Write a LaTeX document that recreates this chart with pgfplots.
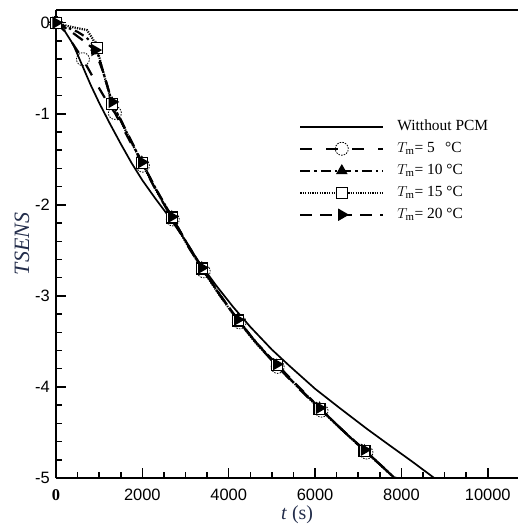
\documentclass[border=0pt]{standalone}
\usepackage{pgfplots}
\pgfplotsset{compat=1.18}
\usepackage{fontspec}
\setmainfont{Liberation Serif}
\setsansfont{Liberation Sans}
\definecolor{lblue}{RGB}{35,45,75}
\begin{document}
\begin{tikzpicture}
\begin{axis}[name=ax, scale only axis, width=462bp, height=468bp,
  xmin=0, xmax=10700, ymin=-5, ymax=0.14, clip=false,
  scaled x ticks=false, scaled y ticks=false,
  axis lines=left, axis line style={-, line width=2.5bp, black},
  xtick={0,2000,4000,6000,8000,10000},
  xticklabels={{\rmfamily\bfseries 0},2000,4000,6000,8000,10000},
  ytick={-5,-4,-3,-2,-1,0}, yticklabels={-5,-4,-3,-2,-1,0},
  minor x tick num=3, minor y tick num=4,
  tick align=inside, major tick length=10bp, minor tick length=6bp,
  tick style={line width=1.5bp, black},
  tick label style={font=\sffamily\fontsize{16.5}{16.5}\selectfont},
  yticklabel style={inner sep=0pt, xshift=-6bp},
  xticklabel style={inner sep=0pt, yshift=-11bp},
  xlabel={\textit{t} (s)},
  xlabel style={at={(axis description cs:0.522,-0.079)}, anchor=center, font=\fontsize{20}{20}\selectfont, text=lblue},
  ylabel={\textit{TSENS}},
  ylabel style={at={(axis description cs:-0.0735,0.5)}, anchor=center, font=\fontsize{22}{22}\selectfont, text=lblue},
  legend cell align=left,
  legend style={draw=none, fill=none, at={(axis description cs:0.526,0.767)}, anchor=north west,
    font=\fontsize{15.5}{15.5}\selectfont, inner sep=0pt, column sep=13bp, row sep=7bp,
    nodes={inner sep=0pt, text height=11bp, text depth=4bp}},
  legend image code/.code={\draw[#1, mark indices={2}] plot coordinates {(0bp,0bp) (41.5bp,0bp) (83bp,0bp)};},
  after end axis/.code={\draw[line width=2.5bp] (rel axis cs:0,1) -- (rel axis cs:1,1);}
]
% Without PCM
\addplot[black, line width=1.7bp, mark=none] coordinates {
(0,0)(200,-0.09)(400,-0.24)(600,-0.46)(800,-0.68)(1000,-0.88)(1250,-1.11)(1500,-1.33)(1750,-1.54)(2000,-1.73)(2300,-1.93)(2600,-2.12)(2950,-2.36)(3300,-2.62)(3700,-2.88)(4100,-3.12)(4500,-3.34)(5000,-3.59)(5410,-3.77)(6000,-4.02)(6566,-4.23)(7200,-4.46)(7722,-4.64)(8250,-4.82)(8760,-5.0)};
\addlegendentry{Witthout PCM}
% Tm = 5
\addplot[black, line width=2.2bp, dash pattern=on 12bp off 14bp, mark=o, mark size=6.5bp,
  mark options={solid, fill=white, line width=0.8bp, dash pattern=on 1.5bp off 1.2bp},
  mark indices={1,4,8,10,12,14,16,18,20,22}] coordinates {
(0,0)(200,-0.09)(400,-0.24)(624,-0.40)(800,-0.55)(1000,-0.72)(1200,-0.88)(1364,-0.99)(1700,-1.29)(2012,-1.57)(2350,-1.87)(2705,-2.16)(3050,-2.45)(3422,-2.73)(3850,-3.03)(4254,-3.29)(4700,-3.55)(5133,-3.78)(5650,-4.03)(6150,-4.26)(6650,-4.48)(7190,-4.72)(7550,-4.87)(7870,-5.0)};
\addlegendentry{$T_{\mathrm{m}}$= 5\phantom{0}\,°C}
% Tm = 10
\addplot[black, line width=2.2bp, dash pattern=on 10bp off 4bp on 2.5bp off 4bp, mark=triangle*, mark size=4.5bp,
  mark options={solid},
  mark indices={1,6,8,10,12,14,16,18,20,22}] coordinates {
(0,0)(150,-0.03)(300,-0.06)(500,-0.10)(700,-0.16)(925,-0.27)(1100,-0.55)(1300,-0.88)(1650,-1.22)(1988,-1.53)(2330,-1.84)(2682,-2.13)(3030,-2.42)(3376,-2.69)(3800,-2.99)(4208,-3.26)(4650,-3.52)(5110,-3.76)(5600,-4.00)(6104,-4.23)(6600,-4.46)(7144,-4.70)(7500,-4.85)(7840,-5.0)};
\addlegendentry{$T_{\mathrm{m}}$= 10 °C}
% Tm = 15
\addplot[black, line width=2.2bp, dash pattern=on 1.2bp off 1.2bp, mark=square*, mark size=5.5bp,
  mark options={solid, fill=white, line width=1.2bp},
  mark indices={1,7,9,11,13,15,17,19,21,23}] coordinates {
(0,0)(150,-0.02)(300,-0.04)(500,-0.06)(717,-0.08)(855,-0.18)(950,-0.28)(1063,-0.49)(1300,-0.89)(1650,-1.22)(1988,-1.54)(2330,-1.85)(2682,-2.14)(3030,-2.43)(3376,-2.70)(3800,-3.00)(4208,-3.27)(4650,-3.53)(5110,-3.76)(5600,-4.00)(6104,-4.24)(6600,-4.46)(7144,-4.70)(7500,-4.85)(7840,-5.0)};
\addlegendentry{$T_{\mathrm{m}}$= 15 °C}
% Tm = 20
\addplot[black, line width=2.2bp, dash pattern=on 12bp off 8bp, mark=triangle*, mark size=5bp,
  mark options={solid, rotate=-90},
  mark indices={1,5,7,9,11,13,15,17,19,21}] coordinates {
(0,0)(300,-0.08)(500,-0.15)(700,-0.22)(900,-0.30)(1100,-0.55)(1300,-0.87)(1650,-1.21)(1988,-1.53)(2330,-1.84)(2682,-2.13)(3030,-2.42)(3376,-2.69)(3800,-2.99)(4208,-3.26)(4650,-3.52)(5110,-3.75)(5600,-3.99)(6104,-4.23)(6600,-4.46)(7144,-4.69)(7500,-4.85)(7840,-5.0)};
\addlegendentry{$T_{\mathrm{m}}$= 20 °C}
\end{axis}
\pgfresetboundingbox
\path[use as bounding box] ([xshift=-56bp,yshift=-46bp]ax.south west) rectangle ([yshift=10bp]ax.north east);
\end{tikzpicture}
\end{document}
